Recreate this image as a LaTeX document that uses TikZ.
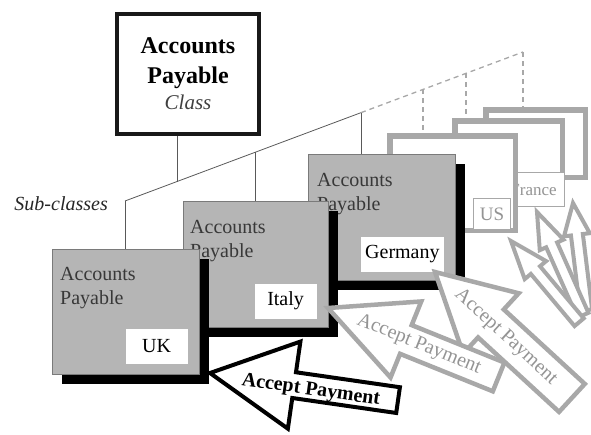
\documentclass[tikz,border=0pt]{standalone}
\usepackage{fontspec}
\setmainfont{Liberation Serif}
\usetikzlibrary{calc,shadows}

\definecolor{boxgray}{gray}{0.71}
\definecolor{edgegray}{gray}{0.48}
\definecolor{ghost}{gray}{0.66}
\definecolor{ghosttext}{gray}{0.58}
\definecolor{inkgray}{gray}{0.22}

% outline of a block arrow: tip at #2, pointing back along the angle #3
% (#4 length, #5 head length, #6 head half width, #7 body half width)
\newcommand\arrowshape[7]{%
  \draw[#1, shift={#2}, rotate=-#3]
    (0,0) -- (#5,-#6) -- (#5,-#7) -- (#4,-#7) -- (#4,#7) -- (#5,#7) -- (#5,#6) -- cycle;}

\tikzset{
  hier/.style={draw=black!65, line width=0.8pt},
  hierdash/.style={draw=ghost, line width=1.3pt, dash pattern=on 5pt off 4pt},
  classbox/.style={draw=black!90, line width=4pt, fill=white, minimum width=142pt,
    minimum height=120pt, align=center, inner sep=0pt,
    font=\fontsize{24}{30}\selectfont},
  subbox/.style={draw=edgegray, line width=0.8pt, fill=boxgray, anchor=north west,
    inner sep=0pt, drop shadow={shadow xshift=10pt, shadow yshift=-10pt,
    fill=black, opacity=1}},
  ghostbox/.style={draw=ghost, line width=5.5pt, fill=white, inner sep=0pt},
  boxtext/.style={anchor=north west, align=left, inner sep=0pt, text=inkgray,
    font=\fontsize{20}{24}\selectfont},
  namelabel/.style={fill=white, anchor=south east, minimum width=62pt,
    minimum height=35pt, inner xsep=4pt, font=\fontsize{20}{24}\selectfont},
  ghostlabel/.style={draw=ghost, line width=0.8pt, fill=white, anchor=south east,
    inner xsep=2pt, text=ghosttext},
  inkarrow/.style={draw=black, line width=4pt, fill=white},
  ghostarrow/.style={draw=ghost, line width=4.5pt, fill=white},
  inkpay/.style={font=\fontsize{20}{24}\selectfont\bfseries, text=black, inner sep=0pt},
  ghostpay/.style={font=\fontsize{20}{24}\selectfont, text=ghosttext, inner sep=0pt},
}

\begin{document}
\begin{tikzpicture}[x=1pt, y=-1pt]
\useasboundingbox (0,0) rectangle (591,434);

% superclass
\node[classbox] (class) at (188,74)
  {{\bfseries Accounts}\\
   {\bfseries Payable}\\[-4pt]
   {\fontsize{21}{26}\selectfont\itshape\color{black!75}Class}};

\node[anchor=east, inner sep=0pt, font=\fontsize{20}{24}\selectfont\itshape,
  text=black!85] (sub) at (108,204) {Sub-classes};

% the inheritance bar: solid for drawn sub-classes, dashed further back
\coordinate (barL) at (125,201);
\coordinate (barR) at (523,52);
\coordinate (jC) at ($(barL)!{52/398}!(barR)$);
\coordinate (jI) at ($(barL)!{130/398}!(barR)$);
\coordinate (jG) at ($(barL)!{236/398}!(barR)$);
\coordinate (jU) at ($(barL)!{298/398}!(barR)$);
\coordinate (jF) at ($(barL)!{341/398}!(barR)$);

% sub-classes drawn further back
\node[ghostbox, minimum width=99.5pt, minimum height=67.5pt] (back) at (535.5,143.5) {};
\node[ghostbox, minimum width=107.5pt, minimum height=83.5pt] (france) at (508.5,162.5) {};
\node[ghostlabel, minimum width=62pt, minimum height=34pt,
  font=\fontsize{17}{20}\selectfont] (frlab) at (france.south east) {France};
\node[ghostbox, minimum width=125.5pt, minimum height=94.5pt] (us) at (452.5,183) {};
\node[ghostlabel, minimum width=37pt, minimum height=31pt,
  font=\fontsize{19}{22}\selectfont] (uslab) at ($(us.south east)+(-7,-3)$) {US};

\draw[hier] (barL) -- (jG);
\draw[hierdash] (jG) -- (barR);
\draw[hier] (jC) -- (jC |- class.south);
\draw[hier] (barL) -- (barL |- 0,249);
\draw[hier] (jI) -- (jI |- 0,201);
\draw[hier] (jG) -- (jG |- 0,154);
\draw[hierdash] (jU) -- (jU |- us.north);
\draw[hierdash] (jF) -- (jF |- france.north);
\draw[hierdash] (barR) -- (barR |- back.north);

% arrows into the back sub-classes
\coordinate (tipB) at (573,203);
\coordinate (tipF) at (537,212);
\coordinate (tipS) at (511,241);
\arrowshape{ghostarrow, line width=4pt}{(tipB)}{83}{108}{32}{13}{6}
\arrowshape{ghostarrow, line width=4pt}{(tipF)}{66}{113}{36}{13}{6}
\arrowshape{ghostarrow, line width=4pt}{(tipS)}{50}{106}{38}{14}{6}

% Germany
\node[subbox, minimum width=147pt, minimum height=126pt] (germany) at (308,154) {};
\node[boxtext] (gtext) at ($(germany.north west)+(9,19)$) {Accounts\\Payable};
\node[namelabel] (glab) at ($(germany.south east)+(-12,-9)$) {Germany};
\coordinate (tipG) at (435,272);
\arrowshape{ghostarrow}{(tipG)}{42.6}{186}{76}{41}{19}
\node[ghostpay, rotate=-42.6] (payG) at ($(tipG)+(42.6:96)$) {Accept Payment};

% Italy
\node[subbox, minimum width=145pt, minimum height=126pt] (italy) at (183,201) {};
\node[boxtext] (itext) at ($(italy.north west)+(7,19)$) {Accounts\\Payable};
\node[namelabel] (ilab) at ($(italy.south east)+(-12,-9)$) {Italy};
\coordinate (tipI) at (328,308);
\arrowshape{ghostarrow}{(tipI)}{22}{184}{84}{41}{15.5}
\node[ghostpay, rotate=-22] (payI) at ($(tipI)+(22:98)$) {Accept Payment};

% UK
\node[subbox, minimum width=147pt, minimum height=125pt] (uk) at (52,249) {};
\node[boxtext] (ktext) at ($(uk.north west)+(8,18)$) {Accounts\\Payable};
\node[namelabel] (klab) at ($(uk.south east)+(-12,-11)$) {UK};
\coordinate (tipU) at (210,373);
\arrowshape{inkarrow}{(tipU)}{8.2}{190}{85}{44}{13}
\node[inkpay, rotate=-8.2] (payU) at ($(tipU)+(8.2:102)+(0,3)$) {Accept Payment};
\end{tikzpicture}
\end{document}
